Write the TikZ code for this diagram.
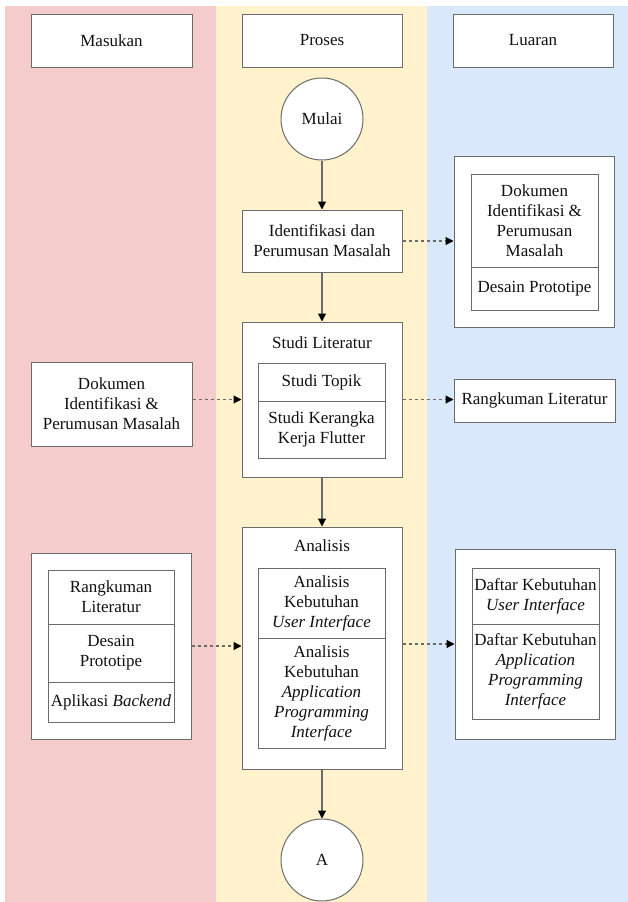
\documentclass[tikz,border=0pt]{standalone}
\usepackage{fontspec}
\setmainfont{Liberation Serif}
\usetikzlibrary{arrows.meta}
\definecolor{colpink}{HTML}{F4CCCC}
\definecolor{colyellow}{HTML}{FFF2CC}
\definecolor{colblue}{HTML}{DAE8FC}
\definecolor{linec}{HTML}{6B6B6B}
\definecolor{txtc}{HTML}{111111}
\begin{document}
\begin{tikzpicture}[x=1pt,y=-1pt,
  every node/.style={font=\fontsize{17}{20}\selectfont, text=txtc},
  box/.style={draw=linec, fill=white, line width=1pt, inner sep=0pt, align=center, rectangle},
  circ/.style={draw=linec, fill=white, line width=1pt, circle, inner sep=0pt, minimum size=82pt},
  lbl/.style={inner sep=0pt, align=center},
  flow/.style={draw=linec, line width=1.1pt, -{Triangle[width=8pt,length=8pt,color=black]}},
  dflow/.style={flow, dash pattern=on 3pt off 3pt}
]
\useasboundingbox (0,0) rectangle (628,902);
% columns
\fill[colpink] (5,6) rectangle (216,902);
\fill[colyellow] (216,6) rectangle (427,902);
\fill[colblue] (427,6) rectangle (628,902);

% headers
\node[box, minimum width=161pt, minimum height=53pt] (hM) at (111.5,40.5) {Masukan};
\node[box, minimum width=160pt, minimum height=53pt] (hP) at (322,40.5) {Proses};
\node[box, minimum width=160pt, minimum height=53pt] (hL) at (533,40.5) {Luaran};

% process column
\node[circ] (mulai) at (322,119) {Mulai};
\node[box, minimum width=160pt, minimum height=62pt] (iden) at (322,241) {Identifikasi dan\\Perumusan Masalah};

\node[box, minimum width=160pt, minimum height=155pt] (studi) at (322,399.5) {};
\node[lbl] (studiT) at (322,343) {Studi Literatur};
\node[box, minimum width=127pt, minimum height=38pt] (studi1) at (321.5,382) {Studi Topik};
\node[box, minimum width=127pt, minimum height=57pt] (studi2) at (321.5,429.5) {Studi Kerangka\\Kerja Flutter};

\node[box, minimum width=160pt, minimum height=242pt] (anal) at (322,648) {};
\node[lbl] (analT) at (322,546) {Analisis};
\node[box, minimum width=127pt, minimum height=70pt] (anal1) at (321.5,603) {Analisis\\Kebutuhan\\\textit{User Interface}};
\node[box, minimum width=127pt, minimum height=110pt] (anal2) at (321.5,693) {Analisis\\Kebutuhan\\\textit{Application}\\\textit{Programming}\\\textit{Interface}};

\node[circ] (akhir) at (322,860) {A};

% input column
\node[box, minimum width=161pt, minimum height=84pt] (mDok) at (111.5,404) {Dokumen\\Identifikasi \&\\Perumusan Masalah};
\node[box, minimum width=160pt, minimum height=186pt] (mOut) at (111,646) {};
\node[box, minimum width=126pt, minimum height=54pt] (m1) at (111,597) {Rangkuman\\Literatur};
\node[box, minimum width=126pt, minimum height=58pt] (m2) at (111,653) {Desain\\Prototipe};
\node[box, minimum width=126pt, minimum height=40pt] (m3) at (111,702) {Aplikasi \textit{Backend}};

% output column
\node[box, minimum width=160pt, minimum height=171pt] (lTop) at (534,241.5) {};
\node[box, minimum width=127pt, minimum height=93pt] (l1) at (534.5,220.5) {Dokumen\\Identifikasi \&\\Perumusan\\Masalah};
\node[box, minimum width=127pt, minimum height=43pt] (l2) at (534.5,288.5) {Desain Prototipe};
\node[box, minimum width=161pt, minimum height=43pt] (rang) at (534.5,400.5) {Rangkuman Literatur};
\node[box, minimum width=160pt, minimum height=190pt] (lBot) at (535,644) {};
\node[box, minimum width=127pt, minimum height=56pt] (l3) at (535.5,596) {Daftar Kebutuhan\\\textit{User Interface}};
\node[box, minimum width=127pt, minimum height=95pt] (l4) at (535.5,671.5) {Daftar Kebutuhan\\\textit{Application}\\\textit{Programming}\\\textit{Interface}};

% solid flow
\draw[flow] (mulai.south) -- (iden.north);
\draw[flow] (iden.south) -- (studi.north);
\draw[flow] (studi.south) -- (anal.north);
\draw[flow] (anal.south) -- (akhir.north);

% dashed flow
\draw[dflow] (iden.east) -- (iden.east -| lTop.west);
\draw[dflow] (studi.west -| mDok.east) -- (studi.west);
\draw[dflow] (studi.east) -- (studi.east -| rang.west);
\draw[dflow] (mOut.east) -- (mOut.east -| anal.west);
\draw[dflow] (lBot.west -| anal.east) -- (lBot.west);
\end{tikzpicture}
\end{document}
